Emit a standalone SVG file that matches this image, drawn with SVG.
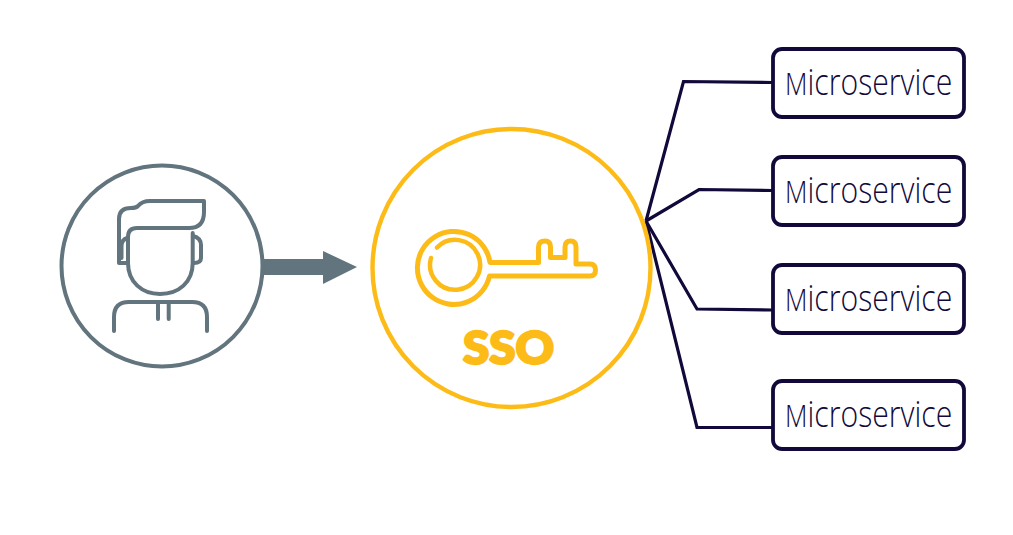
<svg xmlns="http://www.w3.org/2000/svg" width="1013" height="535" viewBox="0 0 1013 535">
<style>
.g{fill:none;stroke:#62747d;stroke-width:4;stroke-linecap:round;stroke-linejoin:round}
.y{fill:none;stroke:#fdbb18;stroke-linecap:round;stroke-linejoin:round}
.box{fill:#fff;stroke:#12093a;stroke-width:3.8}
.lbl{font-family:"Open Sans","Liberation Sans",sans-serif;font-weight:300;font-size:36px;fill:#12093a}
.lbl tspan{font-size:31px}
.c{fill:none;stroke:#12093a;stroke-width:3.2;stroke-linejoin:miter}
</style>
<rect width="1013" height="535" fill="#fff"/>
<g id="connectors">
<path class="c" d="M646 221L683.500 81.500L772 82.500"/>
<path class="c" d="M646 221L699 189.500L772 190.500"/>
<path class="c" d="M646 221L697 309L772 310"/>
<path class="c" d="M646 221L697 427.500L772 427.500"/>
<path d="M263 259H323V251L357 267L323 284V275H263Z" fill="#62747d"/>
</g>
<g id="user">
<circle class="g" cx="162" cy="266" r="100.500"/>
<path class="g" d="M128 263H119V219Q119 208 131 208Q136 208 138 206Q142 201 150 201H204V212Q204 228 189 228H137Q128 228 128 237V263C128 282 142 294 160 294C179 294 192.700 282 192.700 263V233"/>
<path class="g" d="M193 236Q201 238 201 245V258Q201 263 194 263"/>
<path class="g" d="M127 238Q121.500 240 121.500 246V258"/>
<path class="g" d="M114 331V317Q114 302 129 302H192Q207 302 207 317V331"/>
<path class="g" d="M158 303V319M168.700 303V319"/>
</g>
<g id="sso">
<circle cx="511.500" cy="268" r="139" fill="none" stroke="#fdbb18" stroke-width="4.400"/>
<path class="y" stroke-width="5" d="M490 262.500A36.500 36.500 0 1 0 489.500 276H590Q595.500 276 595.500 270Q595.500 264 590 264H576V247Q576 241 570.500 241Q565 241 565 247V257.500H550.500V247Q550.500 241 545 241Q538.500 241 538.500 247V262.500Z"/>
<path class="y" stroke-width="4.500" d="M431 258A25 25 0 1 0 437 247.500"/>
<text x="508.500" y="364" text-anchor="middle" font-family="Lato,'Liberation Sans',sans-serif" font-weight="900" font-size="45" fill="#fdbb18" stroke="#fdbb18" stroke-width="2.400" stroke-linejoin="round" textLength="91" lengthAdjust="spacingAndGlyphs">SSO</text>
</g>
<g id="ms1"><rect class="box" x="773" y="49" width="191" height="68" rx="9"/><text class="lbl" transform="translate(785 95) scale(.84 1)"><tspan>M</tspan>icroservice</text></g>
<g id="ms2"><rect class="box" x="773" y="157" width="191" height="68" rx="9"/><text class="lbl" transform="translate(785 203) scale(.84 1)"><tspan>M</tspan>icroservice</text></g>
<g id="ms3"><rect class="box" x="773" y="265" width="191" height="68" rx="9"/><text class="lbl" transform="translate(785 311) scale(.84 1)"><tspan>M</tspan>icroservice</text></g>
<g id="ms4"><rect class="box" x="773" y="381" width="191" height="68" rx="9"/><text class="lbl" transform="translate(785 427) scale(.84 1)"><tspan>M</tspan>icroservice</text></g>
</svg>
